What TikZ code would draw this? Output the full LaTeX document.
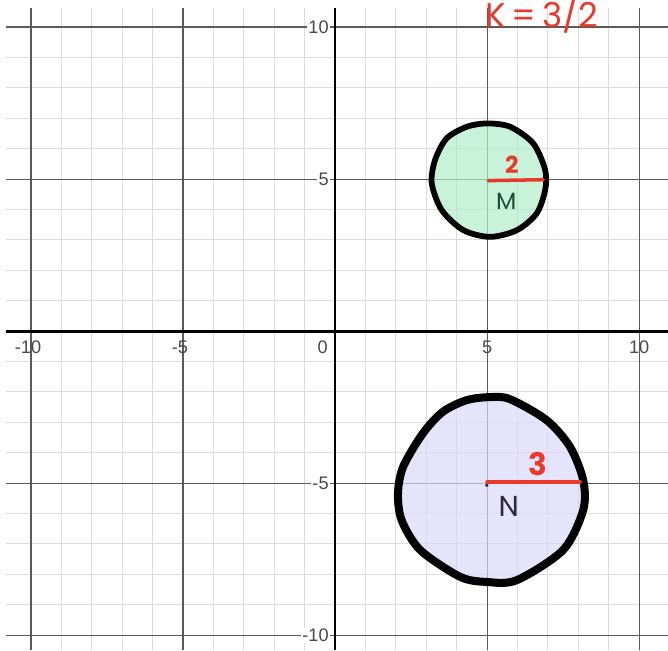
\documentclass[tikz,border=0pt]{standalone}
\usepackage{fontspec}
\setmainfont{Liberation Sans}
\newfontfamily\handfont{Poppins}
\usepackage{tikz}
\definecolor{gridminor}{HTML}{DCDCDC}
\definecolor{gridmajor}{HTML}{5A5A5A}
\definecolor{ticklabel}{HTML}{4A4A4A}
\definecolor{penred}{HTML}{E8392B}
\definecolor{mfill}{RGB}{176,236,202}
\definecolor{nfill}{RGB}{219,216,248}
\definecolor{mink}{HTML}{1E4D35}
\definecolor{nink}{HTML}{2B2B3D}
\usetikzlibrary{calc}

\begin{document}
\begin{tikzpicture}[
    minorline/.style={gridminor, line width=0.9pt},
    majorline/.style={gridmajor, line width=1.1pt},
    axisline/.style={black, line width=2.6pt},
    tick/.style={font=\fontsize{17}{20}\selectfont, text=ticklabel, inner sep=1pt},
    hand/.style={font=\handfont\fontsize{22}{24}\selectfont, inner sep=0pt},
    radiusline/.style={penred, line width=3.3pt, line cap=round},
]
\useasboundingbox (-11.02,-10.49) rectangle (10.95,10.89);

% Grid: light lines every unit, darker every five
\foreach \v in {-10,...,10} {
    \draw[minorline] (\v,-10.49) -- (\v,10.62);
    \draw[minorline] (-10.82,\v) -- (10.95,\v);
}
\foreach \v in {-10,-5,5,10} {
    \draw[majorline] (\v,-10.49) -- (\v,10.62);
    \draw[majorline] (-10.82,\v) -- (10.95,\v);
}

% Axes
\draw[axisline] (-10.82,0) -- (10.95,0);
\draw[axisline] (0,-10.49) -- (0,10.62);

% Tick labels
\foreach \v/\t in {-10/\llap{-}10, -5/\llap{-}5, 5/5, 10/10}
    \node[tick] (xlab\v) at (\v,-0.52) {\t};
\foreach \v in {-10,-5,5,10}
    \node[tick, fill=white, anchor=east] (ylab\v) at (-0.17,\v) {\v};
\node[tick] (orig) at (-0.41,-0.52) {0};

% Circle M
\draw[black, line width=5.4pt, line join=round, fill=mfill, fill opacity=0.7]
    plot[smooth cycle] coordinates {
        (3.67,6.34) (4.33,6.72) (4.99,6.83) (5.76,6.72) (6.52,6.17)
        (6.91,5.30) (6.91,4.64) (6.63,3.87) (5.98,3.32) (5.10,3.10)
        (4.22,3.32) (3.51,3.98) (3.18,4.86) (3.29,5.63)};

% Circle N
\draw[black, line width=7.5pt, line join=round, fill=nfill, fill opacity=0.7]
    plot[smooth cycle] coordinates {
        (3.55,-2.65) (4.33,-2.27) (5.10,-2.17) (5.76,-2.24) (6.96,-2.93)
        (7.73,-3.81) (8.16,-4.90) (8.16,-5.89) (7.50,-7.20) (5.98,-8.19)
        (4.99,-8.25) (4.11,-8.08) (2.80,-7.20) (2.19,-6.22) (2.07,-5.33)
        (2.24,-4.46) (2.89,-3.36)};

% Centres and radii
\coordinate (Mc) at (5.05,4.95);
\coordinate (Me) at (6.85,4.98);
\coordinate (Nc) at (5.00,-4.96);
\coordinate (Ne) at (8.06,-4.96);
\coordinate (Nd) at (4.99,-5.07);
\fill[mink] (Mc) circle (0.06);
\fill[nink] (Nd) circle (0.06);
\draw[radiusline] (Mc) -- (Me);
\draw[radiusline] (Nc) -- (Ne);

% Hand-written labels
\node[hand, text=penred, font=\handfont\bfseries\fontsize{22}{24}\selectfont] (rM) at (5.81,5.46) {2};
\node[hand, text=mink] (nameM) at (5.63,4.26) {M};
\node[hand, text=penred, font=\handfont\bfseries\fontsize{29}{30}\selectfont] (rN) at (6.66,-4.38) {3};
\node[hand, text=nink, font=\handfont\fontsize{27}{28}\selectfont] (nameN) at (5.71,-5.76) {N};
\node[hand, text=penred, anchor=base west, font=\handfont\fontsize{32}{34}\selectfont]
    (scale) at (4.95,10.0) {K\,=\,3/2};

\end{tikzpicture}
\end{document}
